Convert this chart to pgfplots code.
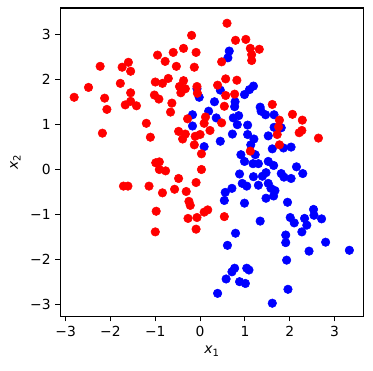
\documentclass[border=0pt]{standalone}
\usepackage{fontspec}
\setmainfont{DejaVu Sans}
\usepackage{pgfplots}
\pgfplotsset{compat=1.18}
\usetikzlibrary{calc}
\begin{document}
\fontsize{10.4}{12.5}\selectfont
\begin{tikzpicture}
\begin{axis}[name=ax, scale only axis, width=227.25pt, height=231.5pt,
  xmin=-3.12, xmax=3.64, ymin=-3.28, ymax=3.6,
  axis line style={line width=0.8pt}, every tick/.style={black, line width=0.8pt},
  tick align=outside, major tick length=3.6pt,
  xtick pos=bottom, ytick pos=left,
  xtick={-3,-2,-1,0,1,2,3}, xticklabels={−3,−2,−1,0,1,2,3},
  ytick={-3,-2,-1,0,1,2,3}, yticklabels={−3,−2,−1,0,1,2,3},
  tick label style={font=\fontsize{10.4}{12.5}\selectfont},
  xlabel={\textit{x}\raisebox{-0.35ex}{\fontsize{7.5}{8}\selectfont 1}},
  ylabel={\textit{x}\raisebox{-0.35ex}{\fontsize{7.5}{8}\selectfont 2}},
  label style={font=\fontsize{10.4}{12.5}\selectfont},
  clip=false]
\addplot[only marks, mark=*, mark size=3.2pt, color=blue, fill=blue] coordinates {
(-0.02,1.61) (-0.07,1.80) (-0.17,1.22) (-0.17,0.97) (0.19,1.30) (0.09,0.51)
(0.65,2.64) (0.62,2.49) (1.19,1.86) (1.10,1.78) (0.99,1.67) (0.45,1.77)
(0.32,1.51) (0.78,1.51) (0.77,1.40) (0.36,1.15) (0.74,1.15) (0.86,1.20)
(0.83,1.00) (1.34,1.39) (1.36,1.30) (1.46,1.22) (1.65,1.22) (1.06,0.99)
(0.72,0.79) (1.06,0.78) (1.20,0.68) (1.52,0.75) (1.65,0.94) (1.81,0.93)
(0.45,0.63) (1.13,0.55) (1.61,0.46) (1.86,0.48) (2.03,0.50) (0.91,0.33)
(1.23,0.33) (0.99,0.18) (1.18,0.13) (1.30,0.13) (1.52,0.18) (1.64,0.09)
(2.15,0.06) (2.29,-0.09) (0.88,-0.10) (1.19,-0.16) (1.39,-0.15) (1.47,-0.07)
(1.81,-0.09) (1.87,-0.17) (2.03,-0.20) (0.94,-0.31) (1.04,-0.37) (0.71,-0.42)
(1.30,-0.35) (1.52,-0.31) (1.58,-0.42) (1.67,-0.47) (0.56,-0.51) (1.64,-0.59)
(1.47,-0.64) (0.54,-0.69) (0.99,-0.75) (1.95,-0.73) (2.01,-1.07) (2.10,-1.19)
(2.33,-1.09) (2.53,-0.89) (2.54,-1.02) (2.71,-1.10) (2.38,-1.24) (2.27,-1.39)
(1.34,-1.15) (0.79,-1.42) (1.91,-1.46) (1.91,-1.63) (0.61,-1.69) (2.80,-1.62)
(2.43,-1.82) (3.33,-1.80) (1.93,-2.02) (0.77,-2.20) (0.71,-2.28) (1.04,-2.20)
(1.09,-2.24) (0.58,-2.44) (0.88,-2.50) (1.01,-2.54) (1.96,-2.67) (0.39,-2.76)
(1.61,-2.98)
};
\addplot[only marks, mark=*, mark size=3.2pt, color=red, fill=red] coordinates {
(-0.19,2.99) (-0.37,2.70) (-0.60,2.61) (-0.09,2.61) (-0.95,2.55) (-0.78,2.41)
(-1.60,2.39) (-2.23,2.30) (-1.74,2.28) (-0.53,2.30) (-0.13,2.28) (-1.55,2.19)
(-1.78,1.92) (-1.00,1.95) (-0.84,1.92) (-0.71,2.03) (-0.37,1.98) (-2.49,1.83)
(-2.81,1.61) (-2.13,1.59) (-2.08,1.34) (-1.55,1.71) (-1.67,1.44) (-1.55,1.52)
(-1.42,1.42) (-1.02,1.66) (-0.92,1.57) (-0.46,1.85) (-0.33,1.80) (-0.43,1.71)
(-0.07,1.85) (-0.06,1.70) (-0.63,1.48) (-0.66,1.28) (-1.20,1.03) (-2.18,0.81)
(-1.11,0.72) (-0.28,1.13) (0.12,1.17) (0.09,1.03) (-0.48,0.85) (-0.33,0.79)
(-0.39,0.68) (-0.11,0.74) (0.00,0.78) (-0.13,0.55) (0.03,0.35) (-0.99,0.15)
(-0.91,0.17) (-0.91,0.00) (-0.77,-0.03) (-0.48,-0.20) (0.03,0.00) (-1.71,-0.37)
(-1.61,-0.37) (-1.14,-0.37) (-0.84,-0.52) (-0.57,-0.44) (-0.31,-0.49) (-0.09,-0.29)
(-0.25,-0.71) (-0.22,-0.80) (-0.98,-0.93) (-0.27,-1.09) (-0.07,-1.07) (0.09,-0.95)
(0.17,-0.90) (-0.09,-1.33) (-1.00,-1.39) (0.54,-1.05) (0.60,3.26) (0.79,2.88)
(1.02,2.90) (1.12,2.70) (1.32,2.68) (1.15,2.56) (1.15,2.43) (0.48,2.40)
(0.57,2.02) (0.82,1.99) (0.39,1.88) (0.57,1.65) (0.77,1.68) (0.54,1.41)
(1.61,1.45) (0.48,1.04) (0.22,0.87) (2.06,1.23) (2.28,1.10) (1.77,1.10)
(1.75,0.95) (1.72,0.78) (2.21,0.82) (2.27,0.87) (2.64,0.70) (1.77,0.55)
(1.12,0.41)
};
\end{axis}
\pgfresetboundingbox
\path ($(ax.south west)+(-45.2pt,-40.7pt)$) rectangle ($(ax.north east)+(7.3pt,6pt)$);
\end{tikzpicture}
\end{document}
